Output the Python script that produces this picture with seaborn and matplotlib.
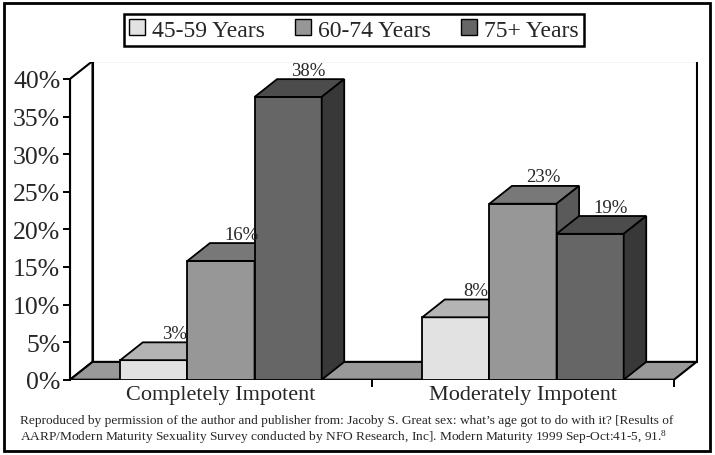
import matplotlib
matplotlib.use("Agg")
import matplotlib.pyplot as plt
import pandas as pd
import seaborn as sns
from matplotlib.patches import Polygon, Rectangle

categories = ["Completely Impotent", "Moderately Impotent"]
age_groups = ["45-59 Years", "60-74 Years", "75+ Years"]
completely = [2.6, 15.8, 37.6]
moderately = [8.3, 23.4, 19.4]
y_ticks = [0, 5, 10, 15, 20, 25, 30, 35, 40]
caption_1 = ("Reproduced by permission of the author and publisher from: Jacoby S. Great sex: "
             "what\u2019s age got to do with it? [Results of")
caption_2 = ("AARP/Modern Maturity Sexuality Survey conducted by NFO Research, Inc]. "
             "Modern Maturity 1999 Sep-Oct:41-5, 91.$^{8}$")

# front / top / side shades per age group
front_colors = ["#e2e2e2", "#979797", "#666666"]
top_colors = ["#b4b4b4", "#787878", "#4c4c4c"]
side_colors = ["#8c8c8c", "#5a5a5a", "#383838"]

rows = []
for cat, vals in zip(categories, [completely, moderately]):
    for grp, v in zip(age_groups, vals):
        rows.append({"condition": cat, "age": grp, "pct": v})
df = pd.DataFrame(rows)

sns.set_style("white")
plt.rcParams["font.family"] = ["Liberation Serif", "DejaVu Serif"]
plt.rcParams["mathtext.fontset"] = "custom"
plt.rcParams["mathtext.rm"] = "Liberation Serif"
plt.rcParams["mathtext.default"] = "regular"

fig = plt.figure(figsize=(7.15, 4.56), dpi=100)
ax = fig.add_axes([70 / 715, 75.3 / 456, 628 / 715, 318 / 456])

# depth offset of the fake 3D (data units)
DX = 22.5 / 302
DY = 17.8 / 7.52

# walls and floor
ax.add_patch(Polygon([(-0.5 + DX, DY), (1.5 + DX, DY), (1.5 + DX, 40 + DY), (-0.5 + DX, 40 + DY)],
                     closed=True, fc="white", ec="black", lw=1.5, zorder=0.5))
ax.add_patch(Polygon([(-0.5, 0), (-0.5, 40), (-0.5 + DX, 40 + DY), (-0.5 + DX, DY)],
                     closed=True, fc="white", ec="black", lw=1.5, zorder=0.6))
ax.add_patch(Polygon([(-0.5, 0), (1.5, 0), (1.5 + DX, DY), (-0.5 + DX, DY)],
                     closed=True, fc="#999999", ec="black", lw=1.5, zorder=1))

sns.barplot(data=df, x="condition", y="pct", hue="age", hue_order=age_groups,
            palette=front_colors, saturation=1, width=0.667, edgecolor="black",
            linewidth=1.3, errorbar=None, ax=ax)

bars = []
for gi, cont in enumerate(ax.containers):
    for bar in cont:
        bars.append((bar.get_x(), gi, bar))
bars.sort(key=lambda t: t[0])

for k, (x0, gi, bar) in enumerate(bars):
    z = 2 + k
    h = bar.get_height()
    x1 = x0 + bar.get_width()
    bar.set_zorder(z)
    ax.add_patch(Polygon([(x0, h), (x1, h), (x1 + DX, h + DY), (x0 + DX, h + DY)],
                         closed=True, fc=top_colors[gi], ec="black", lw=1.3, zorder=z))
    ax.add_patch(Polygon([(x1, 0), (x1 + DX, DY), (x1 + DX, h + DY), (x1, h)],
                         closed=True, fc=side_colors[gi], ec="black", lw=1.3, zorder=z))
    ax.text((x0 + x1) / 2 + DX * 0.9, h + DY + 0.6, f"{h:.0f}%", ha="center",
            va="baseline", fontsize=13.5, zorder=20)

ax.set_xlim(-0.5, -0.5 + 628 / 302)
ax.set_ylim(0, 318 / 7.52)

for s in ["top", "right", "bottom"]:
    ax.spines[s].set_visible(False)
ax.spines["left"].set_bounds(0, 40)
ax.spines["left"].set_linewidth(1.5)
ax.spines["left"].set_color("black")
ax.spines["left"].set_zorder(30)

ax.set_yticks(y_ticks)
ax.set_yticklabels([f"{t}%" for t in y_ticks])
ax.tick_params(axis="y", direction="out", length=5, width=1.4, pad=2,
               labelsize=18.5, left=True, color="black")
ax.set_xticks([0, 1])
ax.set_xticklabels(categories)
ax.tick_params(axis="x", which="major", length=0, pad=4, labelsize=16)
ax.set_xticks([0.5, 1.5], minor=True)
ax.tick_params(axis="x", which="minor", direction="out", length=5, width=1.4,
               bottom=True, color="black")
ax.set_xlabel("")
ax.set_ylabel("")

sns.move_legend(ax, "center", bbox_to_anchor=(354 / 715, 1 - 31 / 456),
                bbox_transform=fig.transFigure, ncol=3, title=None, frameon=True,
                fontsize=17, fancybox=False, edgecolor="black", framealpha=1,
                borderpad=0.25, handlelength=0.65, handleheight=0.65,
                handletextpad=0.3, columnspacing=1.3, borderaxespad=0)
leg = ax.get_legend()
leg.get_frame().set_linewidth(1.8)
for hnd in leg.legend_handles:
    hnd.set_edgecolor("black")
    hnd.set_linewidth(1)

fig.text(20 / 715, 1 - 424 / 456, caption_1, ha="left", va="baseline", fontsize=9.6)
fig.text(20 / 715, 1 - 441 / 456, caption_2, ha="left", va="baseline", fontsize=9.6)

fig.add_artist(Rectangle((4 / 715, 4 / 456), 706 / 715, 448 / 456,
                         transform=fig.transFigure, fill=False, lw=2, ec="black"))

fig.savefig("out.png", dpi=100)
